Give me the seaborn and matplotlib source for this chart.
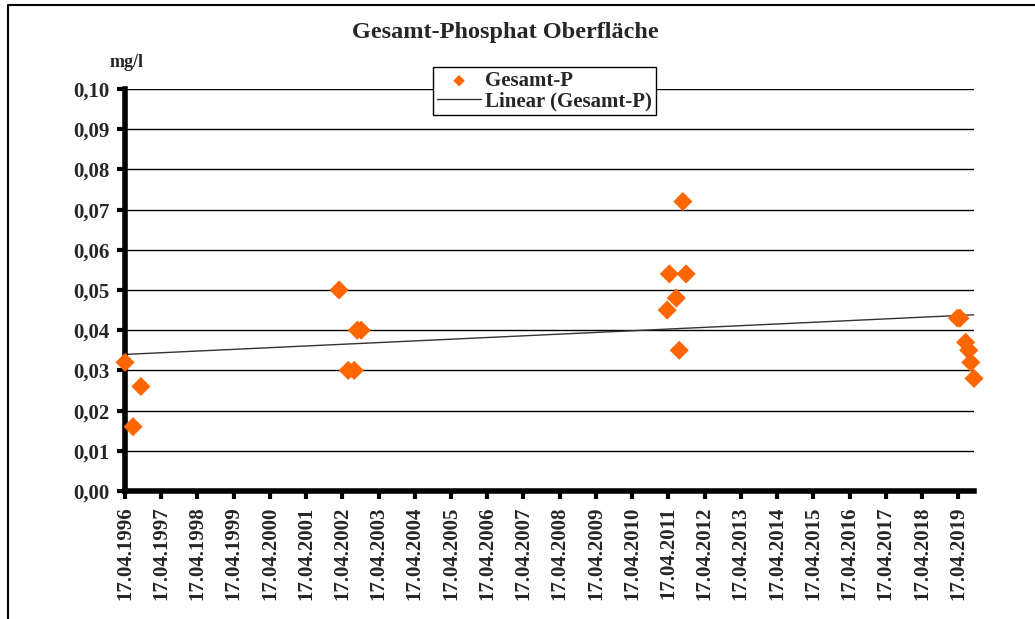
import numpy as np
import pandas as pd
import matplotlib
matplotlib.use('Agg')
import matplotlib.pyplot as plt
import matplotlib.dates as mdates
import seaborn as sns

# sample dates and total phosphate (mg/l)
dates = ['1996-04-17', '1996-07-07', '1996-09-24',
         '2002-03-15', '2002-06-15', '2002-08-15', '2002-09-15', '2002-10-24',
         '2011-04-05', '2011-04-27', '2011-07-06', '2011-08-05', '2011-09-10', '2011-10-13',
         '2019-04-10', '2019-05-05', '2019-07-01', '2019-08-02', '2019-08-22', '2019-09-24']
gesamt_p = [0.032, 0.016, 0.026,
            0.050, 0.030, 0.030, 0.040, 0.040,
            0.045, 0.054, 0.048, 0.035, 0.072, 0.054,
            0.043, 0.043, 0.037, 0.035, 0.032, 0.028]
tick_years = list(range(1996, 2020))
y_ticks = [i / 100 for i in range(0, 11)]

df = pd.DataFrame({'Datum': pd.to_datetime(dates), 'Gesamt-P': gesamt_p})

sns.set_style('white')
plt.rcParams['font.family'] = ['Liberation Serif', 'DejaVu Serif']
plt.rcParams['font.weight'] = 'bold'

fig = plt.figure(figsize=(10.35, 6.19), dpi=100)
ax = fig.add_axes([0.1208, 0.2068, 0.8203, 0.6494])

# linear trend
xnum = mdates.date2num(df['Datum'])
k, d = np.polyfit(xnum, df['Gesamt-P'], 1)
trend = pd.DataFrame({'Datum': df['Datum'].iloc[[0, -1]],
                      'y': k * xnum[[0, -1]] + d})

for yv in y_ticks[1:]:
    ax.axhline(yv, color='black', lw=1, zorder=0)

sns.lineplot(data=trend, x='Datum', y='y', ax=ax, color='#333333', lw=1,
             label='Linear (Gesamt-P)', zorder=2)
sns.scatterplot(data=df, x='Datum', y='Gesamt-P', ax=ax, marker='D', s=95,
                color='#FF6600', edgecolor='none', label='Gesamt-P', zorder=3,
                clip_on=False)

ax.set_xlim(xnum[0], xnum[-1])
ax.set_ylim(0, 0.10)
ax.set_yticks(y_ticks)
ax.set_yticklabels([f'{v:.2f}'.replace('.', ',') for v in y_ticks])
ticks = [pd.Timestamp(f'{yr}-04-17') for yr in tick_years]
ax.set_xticks(mdates.date2num(ticks))
ax.set_xticklabels([t.strftime('%d.%m.%Y') for t in ticks], rotation=90)
ax.set_xlabel('')
ax.set_ylabel('')

for side in ['top', 'right']:
    ax.spines[side].set_visible(False)
for side in ['left', 'bottom']:
    ax.spines[side].set_linewidth(4)
    ax.spines[side].set_color('black')
ax.tick_params(axis='both', direction='out', length=6, width=3, color='black',
               labelsize=15, pad=5, left=True, bottom=True)
for lab in ax.get_xticklabels() + ax.get_yticklabels():
    lab.set_fontweight('bold')

fig.text(0.488, 0.948, 'Gesamt-Phosphat Oberfläche', ha='center', va='center',
         fontsize=17.5, fontweight='bold')
fig.text(0.1225, 0.899, 'mg/l', ha='center', va='center', fontsize=13, fontweight='bold')

handles, labels = ax.get_legend_handles_labels()
order = [labels.index('Gesamt-P'), labels.index('Linear (Gesamt-P)')]
leg = ax.legend([handles[i] for i in order], [labels[i] for i in order],
                loc='upper left', bbox_to_anchor=(433 / 1035, 1 - 67 / 619),
                bbox_transform=fig.transFigure, frameon=True, fancybox=False,
                edgecolor='black', framealpha=1, fontsize=15, markerscale=0.6,
                handlelength=2.1, borderpad=0.2, labelspacing=0.0, handletextpad=0.2,
                borderaxespad=0)
leg.get_frame().set_linewidth(1)
for t in leg.get_texts():
    t.set_fontweight('bold')

# outer frame around chart
fig.add_artist(plt.Line2D([8 / 1035, 8 / 1035, 1], [0, 1 - 5 / 619, 1 - 5 / 619],
                          transform=fig.transFigure, color='black', lw=1.5))

fig.savefig('out.png', dpi=100)
